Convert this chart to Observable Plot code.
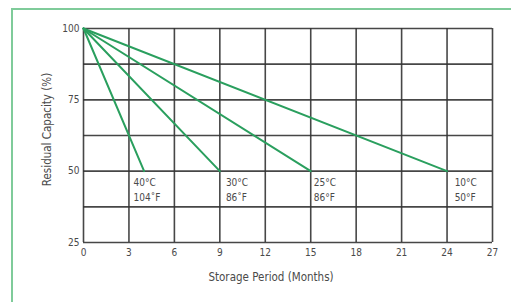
<!DOCTYPE html>
<html><head><meta charset="utf-8">
<script src="https://cdn.jsdelivr.net/npm/d3@7"></script>
<script src="https://cdn.jsdelivr.net/npm/@observablehq/plot@0.6"></script>
<style>
html,body{margin:0;padding:0;background:#fff;overflow:hidden;width:511px;height:302px;}
#wrap{position:relative;width:511px;height:302px;}
#box{position:absolute;left:11px;top:8px;width:600px;height:400px;border:2px solid #7fcb9a;}
#chart{position:absolute;left:0;top:0;}
</style></head>
<body><div id="wrap"><div id="box"></div><div id="chart"></div></div>
<script>
const temps = ["40°C\n104˚F", "30°C\n86˚F", "25°C\n86°F", "10°C\n50°F"];
const endMonths = [4, 9, 15, 24];
const startCapacity = 100;
const endCapacity = 50;
const labelMonths = [3.3, 9.4, 15.2, 24.5];
const xTicks = [0, 3, 6, 9, 12, 15, 18, 21, 24, 27];
const yGrid = [25, 37.5, 50, 62.5, 75, 87.5, 100];
const yTicks = [25, 50, 75, 100];
const xTitle = "Storage Period (Months)";
const yTitle = "Residual Capacity (%)";

const lines = [];
temps.forEach((t, i) => {
  lines.push({series: t, month: 0, cap: startCapacity});
  lines.push({series: t, month: endMonths[i], cap: endCapacity});
});
const labels = temps.map((t, i) => ({text: t, month: labelMonths[i], cap: endCapacity}));

const font = "'DejaVu Sans Condensed','Liberation Sans Narrow',sans-serif";
const ink = "#4a4a4a";
const chart = Plot.plot({
  width: 511, height: 302,
  marginLeft: 83, marginRight: 19, marginTop: 28, marginBottom: 60,
  style: {fontFamily: font, fontSize: "10px", color: ink, background: "transparent"},
  x: {domain: [0, 27]},
  y: {domain: [25, 100]},
  marks: [
    Plot.ruleX(xTicks, {stroke: "#333", strokeWidth: 1.6, strokeOpacity: 0.9}),
    Plot.ruleY(yGrid, {stroke: "#333", strokeWidth: 1.6, strokeOpacity: 0.9}),
    Plot.line(lines, {x: "month", y: "cap", z: "series", stroke: "#2a9f5e", strokeWidth: 2}),
    Plot.text(labels, {x: "month", y: "cap", text: "text", textAnchor: "start", lineAnchor: "top", dy: 5, lineHeight: 1.45, fill: ink, fontSize: 10}),
    Plot.axisX({ticks: xTicks, tickSize: 0, tickPadding: 6, label: null, fill: ink, fontSize: 10}),
    Plot.axisY({ticks: yTicks, tickSize: 0, tickPadding: 4, label: null, fill: ink, fontSize: 10}),
    Plot.text([xTitle], {frameAnchor: "bottom", text: d => d, dy: 38, dx: -17, fontSize: 11.5, fill: ink}),
    Plot.text([yTitle], {frameAnchor: "left", textAnchor: "middle", lineAnchor: "middle", text: d => d, rotate: -90, dx: -36, dy: -6, fontSize: 11.5, fill: ink})
  ]
});
document.getElementById("chart").appendChild(chart);
</script></body></html>
